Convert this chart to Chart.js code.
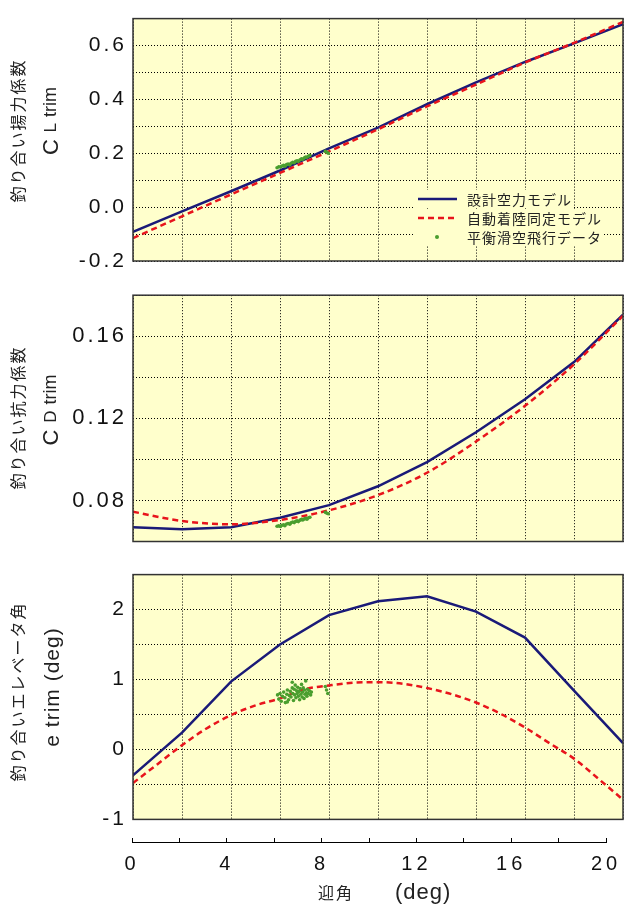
<!DOCTYPE html>
<html>
<head>
<meta charset="utf-8">
<script src="https://cdn.jsdelivr.net/npm/chart.js@4.4.1/dist/chart.umd.min.js"></script>
<style>
body { margin: 0; background: #fff; width: 641px; height: 911px; overflow: hidden; position: relative; }
canvas { position: absolute; left: 0; }
</style>
</head>
<body>
<canvas id="c1" width="641" height="280" style="top:0px"></canvas>
<canvas id="c2" width="641" height="286" style="top:276px"></canvas>
<canvas id="c3" width="641" height="282" style="top:556px"></canvas>
<canvas id="c4" width="641" height="75" style="top:836px"></canvas>
<script>
// angle of attack (deg)
const alpha = [0, 2, 4, 6, 8, 10, 12, 14, 16, 18, 20];
const alphaFine = [0, 1, 2, 3, 4, 5, 6, 7, 8, 9, 10, 11, 12, 13, 14, 15, 16, 17, 18, 19, 20];

// lift coefficient
const clDesign = [-0.092, -0.016, 0.059, 0.136, 0.218, 0.295, 0.382, 0.463, 0.539, 0.608, 0.679];
const clAuto = [-0.115, -0.034, 0.047, 0.127, 0.207, 0.289, 0.374, 0.455, 0.537, 0.610, 0.688];

// drag coefficient
const cdDesign = [0.0669, 0.0660, 0.0669, 0.0716, 0.0777, 0.0869, 0.0987, 0.1132, 0.1293, 0.1474, 0.1705];
const cdAuto = [0.0745, 0.0700, 0.0684, 0.0705, 0.0752, 0.0826, 0.0935, 0.1087, 0.1261, 0.1463, 0.1700];

// elevator angle
const elevDesign = [-0.37, 0.24, 0.97, 1.50, 1.92, 2.12, 2.19, 1.97, 1.60, 0.84, 0.09];
const elevAuto = [-0.48, -0.21, 0.06, 0.30, 0.49, 0.63, 0.73, 0.86, 0.915, 0.955, 0.962, 0.94, 0.878, 0.79, 0.671, 0.51, 0.314, 0.09, -0.131, -0.42, -0.718];

// glide flight data
const flightAlpha = [5.88, 5.95, 6.02, 6.08, 6.15, 6.20, 6.27, 6.33, 6.40, 6.45, 6.52, 6.58, 6.64, 6.70, 6.75, 6.82, 6.88, 6.93, 7.00, 7.05, 7.10, 7.17, 7.22, 7.85, 7.92, 7.97];
const flightCL = [0.146, 0.150, 0.149, 0.153, 0.155, 0.152, 0.158, 0.160, 0.157, 0.163, 0.166, 0.165, 0.170, 0.172, 0.170, 0.176, 0.179, 0.178, 0.183, 0.186, 0.185, 0.190, 0.192, 0.207, 0.203, 0.200];
const flightCD = [0.0674, 0.0676, 0.0673, 0.0679, 0.0681, 0.0677, 0.0685, 0.0688, 0.0684, 0.0691, 0.0695, 0.0692, 0.0698, 0.0701, 0.0697, 0.0704, 0.0708, 0.0705, 0.0710, 0.0713, 0.0709, 0.0716, 0.0718, 0.0742, 0.0738, 0.0735];
const elevFlightAlpha = [5.90, 5.95, 6.00, 6.05, 6.10, 6.15, 6.20, 6.22, 6.28, 6.30, 6.35, 6.38, 6.42, 6.45, 6.50, 6.52, 6.55, 6.58, 6.60, 6.62, 6.65, 6.68, 6.70, 6.72, 6.75, 6.78, 6.80, 6.82, 6.85, 6.88, 6.90, 6.92, 6.95, 6.98, 7.00, 7.02, 7.05, 7.08, 7.10, 7.12, 7.15, 7.20, 7.25, 7.28, 6.50, 6.30, 7.85, 7.90, 7.95];
const elevFlight = [0.78, 0.72, 0.80, 0.69, 0.76, 0.82, 0.74, 0.67, 0.79, 0.85, 0.71, 0.77, 0.83, 0.75, 0.88, 0.80, 0.70, 0.86, 0.78, 0.92, 0.74, 0.84, 0.80, 0.89, 0.76, 0.83, 0.71, 0.87, 0.79, 0.93, 0.75, 0.82, 0.88, 0.73, 0.85, 0.79, 0.98, 0.81, 0.76, 0.86, 0.80, 0.84, 0.78, 0.82, 0.96, 0.68, 0.90, 0.85, 0.80];

// labelled ticks
const clTicks = [-0.2, 0, 0.2, 0.4, 0.6];
const cdTicks = [0.08, 0.12, 0.16];
const elevTicks = [-1, 0, 1, 2];
const alphaTicks = [0, 4, 8, 12, 16, 20];

const names = ['設計空力モデル', '自動着陸同定モデル', '平衡滑空飛行データ'];

const yellow = '#ffffcc';
const navy = '#1a1a78';
const red = '#e8141c';
const green = '#4a9e2e';
const numFont = '"Liberation Sans", Arial, sans-serif';
const jpFont = '"Noto Sans CJK JP", sans-serif';

function pts(xs, ys){
	return xs.map((x, i) => ({x: x, y: ys[i]}));
}

function onTick(list, digits){
	return function(v){
		for (const t of list) {
			if (Math.abs(v - t) < 1e-9) return t.toFixed(digits);
		}
		return '';
	};
}

function lineSet(label, xs, ys, color, dash, order, smooth){
	return {
		label: label,
		data: pts(xs, ys),
		showLine: true,
		borderColor: color,
		backgroundColor: color,
		borderWidth: 2.5,
		borderDash: dash,
		pointRadius: 0,
		tension: 0,
		cubicInterpolationMode: smooth ? 'monotone' : 'default',
		order: order
	};
}

function dotSet(label, xs, ys){
	return {
		label: label,
		data: pts(xs, ys),
		showLine: false,
		pointRadius: 1.8,
		pointBorderWidth: 0,
		backgroundColor: green,
		borderColor: green,
		order: 0
	};
}

// titles and legend, per canvas
function yTitle(jp, x2, y1, y2, parts){
	return [
		{x: 18, y: y1, rot: true, parts: [{t: jp, f: '16px ' + jpFont, ls: 2}]},
		{x: x2, y: y2, rot: true, parts: parts}
	];
}

const spec = {
	c1: {fill: yellow, spacing: 3, legend: true,
		texts: yTitle('釣り合い揚力係数', 51.5, 130.5, 121, [
			{t: 'C', f: '22px ' + numFont, ls: 1}, {t: ' L', f: '17px ' + numFont, ls: 1}, {t: ' trim', f: '18px ' + numFont, ls: 0}])},
	c2: {fill: yellow, spacing: 3,
		texts: yTitle('釣り合い抗力係数', 51.5, 141.5, 134, [
			{t: 'C', f: '22px ' + numFont, ls: 1}, {t: ' D', f: '17px ' + numFont, ls: 1}, {t: ' trim', f: '18px ' + numFont, ls: 0}])},
	c3: {fill: yellow, spacing: 3,
		texts: yTitle('釣り合いエレベータ角', 53, 135.5, 131, [
			{t: 'e trim (deg)', f: '21px ' + numFont, ls: 1}])},
	c4: {spacing: 4,
		texts: [
			{x: 318, y: 57, align: 'left', parts: [{t: '迎角', f: '16px ' + jpFont, ls: 2}]},
			{x: 395, y: 57, align: 'left', parts: [{t: '(deg)', f: '22px ' + numFont, ls: 1}]}
		]}
};

function drawText(ctx, t){
	ctx.save();
	ctx.translate(t.x, t.y);
	if (t.rot) ctx.rotate(-Math.PI / 2);
	ctx.fillStyle = '#222';
	ctx.textBaseline = 'middle';
	ctx.textAlign = 'left';
	let w = 0;
	t.parts.forEach(p => {
		ctx.font = p.f;
		ctx.letterSpacing = p.ls + 'px';
		w += ctx.measureText(p.t).width;
	});
	let x = t.align === 'left' ? 0 : -w / 2;
	t.parts.forEach(p => {
		ctx.font = p.f;
		ctx.letterSpacing = p.ls + 'px';
		ctx.fillText(p.t, x, 0);
		x += ctx.measureText(p.t).width;
	});
	ctx.restore();
}

function drawLegend(chart){
	const ctx = chart.ctx;
	ctx.save();
	ctx.font = '14px ' + jpFont;
	ctx.letterSpacing = '1px';
	ctx.textBaseline = 'middle';
	ctx.textAlign = 'left';
	chart.data.datasets.forEach((d, i) => {
		const y = 199 + i * 19;
		const w = ctx.measureText(d.label).width;
		ctx.fillStyle = yellow;
		ctx.fillRect(413, y - 9, 467 - 413 + w + 1, 18);
		if (d.showLine) {
			ctx.strokeStyle = d.borderColor;
			ctx.lineWidth = 2.5;
			ctx.setLineDash(d.borderDash || []);
			ctx.beginPath();
			ctx.moveTo(418, y);
			ctx.lineTo(457, y);
			ctx.stroke();
			ctx.setLineDash([]);
		} else {
			ctx.fillStyle = d.backgroundColor;
			ctx.beginPath();
			ctx.arc(437, y, 2, 0, Math.PI * 2);
			ctx.fill();
		}
		ctx.fillStyle = '#222';
		ctx.fillText(d.label, 467, y + 1);
	});
	ctx.restore();
}

const panelPlugin = {
	id: 'panel',
	beforeDraw(chart){
		const s = spec[chart.canvas.id];
		const ctx = chart.ctx;
		const a = chart.chartArea;
		ctx.letterSpacing = s.spacing + 'px';
		if (s.fill) {
			ctx.save();
			ctx.fillStyle = s.fill;
			ctx.fillRect(a.left, a.top, a.right - a.left, a.bottom - a.top);
			ctx.restore();
		}
	},
	afterDraw(chart){
		const s = spec[chart.canvas.id];
		const ctx = chart.ctx;
		const a = chart.chartArea;
		if (s.fill) {
			ctx.save();
			ctx.strokeStyle = '#333';
			ctx.lineWidth = 1.5;
			ctx.strokeRect(a.left, a.top, a.right - a.left, a.bottom - a.top);
			ctx.restore();
		}
		s.texts.forEach(t => drawText(ctx, t));
		if (s.legend) drawLegend(chart);
	}
};

const dotted = {color: '#000', lineWidth: 1, drawTicks: false};
const dottedBorder = {display: false, dash: [1, 2]};

function makePanel(id, yMin, yMax, yStep, tickList, digits, tickSize, pad, datasets){
	return new Chart(document.getElementById(id), {
		type: 'scatter',
		data: {datasets: datasets},
		plugins: [panelPlugin],
		options: {
			responsive: false,
			animation: false,
			layout: {padding: pad},
			plugins: {legend: {display: false}, tooltip: {enabled: false}},
			scales: {
				x: {
					type: 'linear', min: 0, max: 20,
					ticks: {display: false, stepSize: 2},
					grid: dotted, border: dottedBorder,
					afterFit: s => { s.height = 0; }
				},
				y: {
					type: 'linear', min: yMin, max: yMax,
					ticks: {stepSize: yStep, autoSkip: false, padding: 6, color: '#111',
						font: {family: numFont, size: tickSize}, callback: onTick(tickList, digits)},
					grid: dotted, border: dottedBorder,
					afterFit: s => { s.width = 133; }
				}
			}
		}
	});
}

makePanel('c1', -0.2, 0.7, 0.1, clTicks, 1, 21, {left: 0, right: 18, top: 13, bottom: 19}, [
	lineSet(names[0], alpha, clDesign, navy, [], 2, false),
	lineSet(names[1], alpha, clAuto, red, [6, 4], 1, true),
	dotSet(names[2], flightAlpha, flightCL)
]);

makePanel('c2', 0.06, 0.18, 0.02, cdTicks, 2, 22, {left: 0, right: 18, top: 18, bottom: 20.5}, [
	lineSet(names[0], alpha, cdDesign, navy, [], 2, false),
	lineSet(names[1], alpha, cdAuto, red, [6, 4], 1, true),
	dotSet(names[2], flightAlpha, flightCD)
]);

makePanel('c3', -1, 2.5, 0.5, elevTicks, 0, 21, {left: 0, right: 18, top: 18, bottom: 16}, [
	lineSet(names[0], alpha, elevDesign, navy, [], 2, false),
	lineSet(names[1], alphaFine, elevAuto, red, [6, 4], 1, true),
	dotSet(names[2], elevFlightAlpha, elevFlight)
]);

// separate angle-of-attack axis under the panels
new Chart(document.getElementById('c4'), {
	type: 'scatter',
	data: {datasets: []},
	plugins: [panelPlugin],
	options: {
		responsive: false,
		animation: false,
		layout: {padding: {left: 132, right: 35, top: 2, bottom: 29}},
		plugins: {legend: {display: false}, tooltip: {enabled: false}},
		scales: {
			x: {
				type: 'linear', min: 0, max: 20,
				ticks: {stepSize: 2, autoSkip: false, maxRotation: 0, padding: 10, color: '#111',
					font: {family: numFont, size: 20}, callback: onTick(alphaTicks, 0)},
				grid: {color: '#000', lineWidth: 1, drawTicks: false},
				border: {display: true, color: '#000', width: 1},
				afterFit: s => { s.height = 40; }
			},
			y: {display: false, min: 0, max: 1}
		}
	}
});
</script>
</body>
</html>
